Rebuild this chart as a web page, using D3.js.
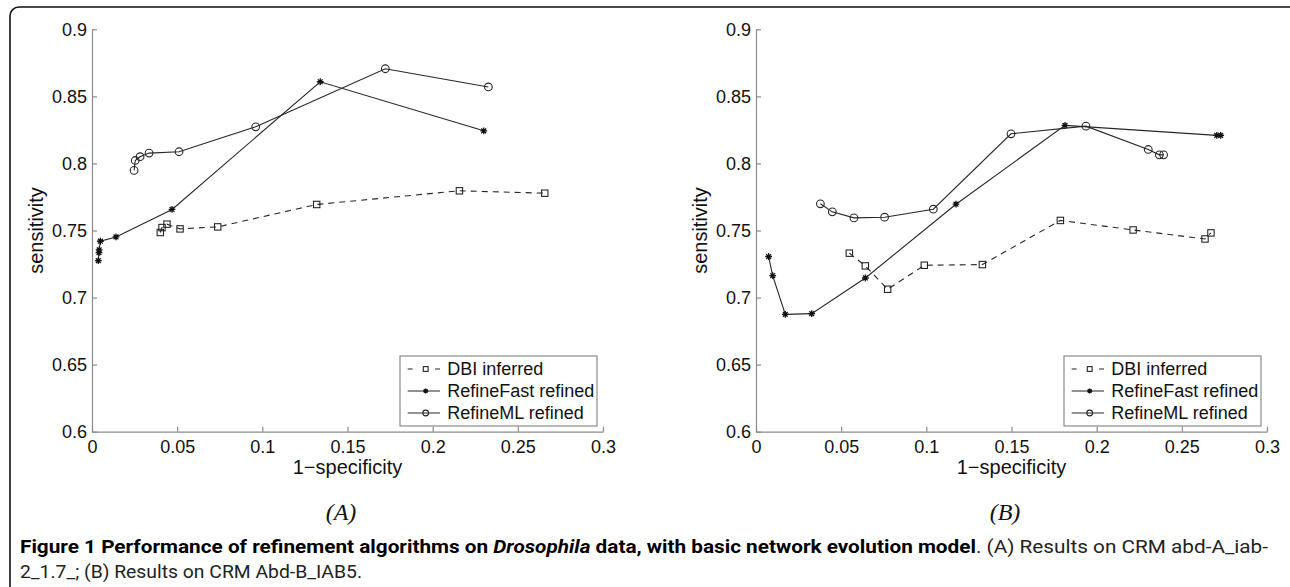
<!DOCTYPE html>
<html><head><meta charset="utf-8">
<script src="https://cdn.jsdelivr.net/npm/d3@7"></script>
<style>body{margin:0;background:#fff}svg{display:block}</style>
</head><body>
<svg id="chart" width="1290" height="587"></svg>
<script>
// ---- data ----
const xTicks = [0, 0.05, 0.1, 0.15, 0.2, 0.25, 0.3];
const yTicks = [0.6, 0.65, 0.7, 0.75, 0.8, 0.85, 0.9];
const seriesNames = ["DBI inferred", "RefineFast refined", "RefineML refined"];
const panelLabels = ["(A)", "(B)"];
const xLabel = "1\u2212specificity";
const yLabel = "sensitivity";

const dbiA = [[0.0401,0.7485],[0.0411,0.7522],[0.0440,0.7547],[0.0517,0.7512],[0.0738,0.7527],[0.1319,0.7694],[0.2157,0.7796],[0.2658,0.7778]];
const fastA = [[0.0037,0.7275],[0.0041,0.7335],[0.0042,0.7355],[0.0049,0.7420],[0.0141,0.7452],[0.0470,0.7657],[0.1340,0.8609],[0.2300,0.8243]];
const mlA = [[0.0247,0.7948],[0.0254,0.8022],[0.0282,0.8050],[0.0335,0.8077],[0.0511,0.8087],[0.0961,0.8273],[0.1722,0.8706],[0.2327,0.8570]];

const dbiB = [[0.0548,0.7331],[0.0642,0.7236],[0.0773,0.7062],[0.0988,0.7241],[0.1329,0.7246],[0.1787,0.7575],[0.2214,0.7504],[0.2636,0.7437],[0.2671,0.7482]];
const fastB = [[0.0074,0.7306],[0.0098,0.7164],[0.0172,0.6875],[0.0327,0.6880],[0.0642,0.7146],[0.1174,0.7696],[0.1814,0.8284],[0.2705,0.8209],[0.2728,0.8209]];
const mlB = [[0.0378,0.7699],[0.0448,0.7639],[0.0575,0.7594],[0.0755,0.7599],[0.1041,0.7659],[0.1497,0.8221],[0.1937,0.8278],[0.2303,0.8104],[0.2368,0.8064],[0.2393,0.8064]];

const captionBold = "Figure 1 Performance of refinement algorithms on ";
const captionItalic = "Drosophila";
const captionBold2 = " data, with basic network evolution model";
const captionRest1 = ". (A) Results on CRM abd-A_iab-";
const captionLine2 = "2_1.7_; (B) Results on CRM Abd-B_IAB5.";

// ---- drawing ----
const svg = d3.select("#chart");
const LINE = "#262626", AXIS = "#8a8a8a";
const FONT = "'Liberation Sans', Arial, sans-serif";

// frame
svg.append("rect").attr("x", 10).attr("y", 7).attr("width", 1320).attr("height", 620)
  .attr("rx", 9).attr("fill", "none").attr("stroke", "#111").attr("stroke-width", 1.6);

function starPath(s) {
  const d = s * 0.707;
  return `M${-s},0L${s},0M0,${-s}L0,${s}M${-d},${-d}L${d},${d}M${-d},${d}L${d},${-d}`;
}

function drawMarkers(g, data, type, xs, ys, size) {
  const sel = g.selectAll(null).data(data).enter();
  if (type === "square") {
    sel.append("rect").attr("x", d => xs(d[0]) - size).attr("y", d => ys(d[1]) - size)
      .attr("width", size * 2).attr("height", size * 2)
      .attr("fill", "none").attr("stroke", LINE).attr("stroke-width", 1.1);
  } else if (type === "circle") {
    sel.append("circle").attr("cx", d => xs(d[0])).attr("cy", d => ys(d[1])).attr("r", size * 1.2)
      .attr("fill", "none").attr("stroke", LINE).attr("stroke-width", 1.1);
  } else {
    sel.append("path").attr("transform", d => `translate(${xs(d[0])},${ys(d[1])})`)
      .attr("d", starPath(size)).attr("fill", "none").attr("stroke", "#111").attr("stroke-width", 1.3);
  }
}

function panel(x0, dbi, fast, ml, label) {
  const xs = d3.scaleLinear().domain([0, 0.3]).range([x0, x0 + 511]);
  const ys = d3.scaleLinear().domain([0.6, 0.9]).range([431.7, 29.3]);
  const g = svg.append("g");

  const xa = g.append("g").attr("transform", "translate(0,431.7)")
    .call(d3.axisBottom(xs).tickValues(xTicks).tickFormat(d => String(d))
      .tickSizeInner(-5).tickSizeOuter(0).tickPadding(8.5));
  const ya = g.append("g").attr("transform", `translate(${x0},0)`)
    .call(d3.axisLeft(ys).tickValues(yTicks).tickFormat(d => String(d))
      .tickSizeInner(-5).tickSizeOuter(0).tickPadding(5));
  [xa, ya].forEach(a => {
    a.selectAll("path,line").attr("stroke", AXIS).attr("stroke-width", 1.2);
    a.selectAll("text").attr("fill", "#111").attr("font-size", 18).attr("font-family", FONT);
  });

  g.append("text").attr("x", x0 + 255.5).attr("y", 474).attr("text-anchor", "middle")
    .attr("font-size", 20).attr("font-family", FONT).attr("fill", "#111").text(xLabel);
  g.append("text").attr("transform", `translate(${x0 - 49},230.5) rotate(-90)`).attr("text-anchor", "middle")
    .attr("font-size", 20).attr("font-family", FONT).attr("fill", "#111").text(yLabel);
  g.append("text").attr("x", x0 + 249).attr("y", 520).attr("text-anchor", "middle")
    .attr("font-size", 24).attr("font-style", "italic").attr("font-family", "'Liberation Serif', 'Times New Roman', serif")
    .attr("fill", "#111").text(label);

  const line = d3.line().x(d => xs(d[0])).y(d => ys(d[1]));
  g.append("path").datum(dbi).attr("d", line).attr("fill", "none").attr("stroke", LINE)
    .attr("stroke-width", 1.1).attr("stroke-dasharray", "6,5");
  g.append("path").datum(fast).attr("d", line).attr("fill", "none").attr("stroke", LINE).attr("stroke-width", 1.1);
  g.append("path").datum(ml).attr("d", line).attr("fill", "none").attr("stroke", LINE).attr("stroke-width", 1.1);
  drawMarkers(g, dbi, "square", xs, ys, 3.2);
  drawMarkers(g, fast, "star", xs, ys, 3.4);
  drawMarkers(g, ml, "circle", xs, ys, 3.2);

  // legend
  const lg = g.append("g").attr("transform", `translate(${x0 + 308},356)`);
  lg.append("rect").attr("width", 197).attr("height", 70).attr("fill", "#fff")
    .attr("stroke", AXIS).attr("stroke-width", 1.2);
  const rows = [13, 35, 57];
  const types = ["square", "star", "circle"];
  seriesNames.forEach((name, i) => {
    const y = rows[i];
    if (i === 0) {
      lg.append("line").attr("x1", 7.7).attr("x2", 12.7).attr("y1", y).attr("y2", y).attr("stroke", LINE);
      lg.append("line").attr("x1", 35).attr("x2", 40).attr("y1", y).attr("y2", y).attr("stroke", LINE);
    } else {
      lg.append("line").attr("x1", 7.7).attr("x2", 40).attr("y1", y).attr("y2", y).attr("stroke", LINE).attr("stroke-width", 1.1);
    }
    const lx = d3.scaleLinear().domain([0, 1]).range([0, 1]);
    drawMarkers(lg, [[25.7, y]], types[i], lx, lx, i === 1 ? 2.6 : 2.4);
    lg.append("text").attr("x", 47.3).attr("y", y + 6.3).attr("font-size", 18)
      .attr("font-family", FONT).attr("fill", "#111").text(name);
  });
}

panel(92, dbiA, fastA, mlA, panelLabels[0]);
panel(756, dbiB, fastB, mlB, panelLabels[1]);

// caption
const CF = "Roboto, 'Noto Sans', sans-serif";
const c1 = svg.append("text").attr("x", 20).attr("y", 553).attr("font-size", 18).attr("font-family", CF)
  .attr("textLength", 1248).attr("lengthAdjust", "spacingAndGlyphs");
c1.append("tspan").attr("font-weight", "bold").attr("fill", "#000").text(captionBold);
c1.append("tspan").attr("font-weight", "bold").attr("font-style", "italic").attr("fill", "#000").text(captionItalic);
c1.append("tspan").attr("font-weight", "bold").attr("fill", "#000").text(captionBold2);
c1.append("tspan").attr("fill", "#222").text(captionRest1);
svg.append("text").attr("x", 20).attr("y", 578).attr("font-size", 18).attr("font-family", CF)
  .attr("fill", "#222").attr("textLength", 342).attr("lengthAdjust", "spacingAndGlyphs").text(captionLine2);
</script>
</body></html>
